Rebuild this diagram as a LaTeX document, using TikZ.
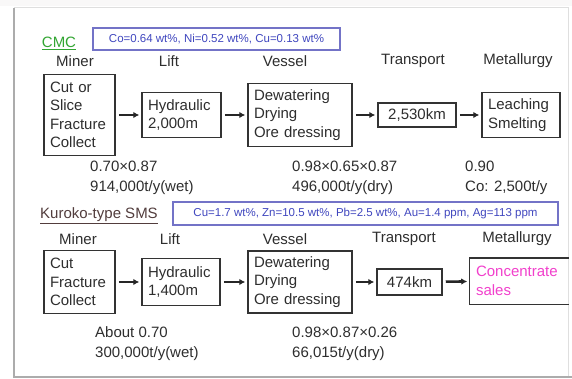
\documentclass[tikz,border=0pt]{standalone}
\usepackage{fontspec}
\setmainfont{Liberation Sans}
\usetikzlibrary{arrows.meta}
\definecolor{txt}{rgb}{0.18,0.18,0.18}
\definecolor{cmcgreen}{rgb}{0.20,0.65,0.20}
\definecolor{kurocol}{rgb}{0.32,0.24,0.24}
\definecolor{infoblue}{rgb}{0.25,0.28,0.75}
\definecolor{infoframe}{rgb}{0.45,0.45,0.78}
\definecolor{salescol}{rgb}{0.95,0.25,0.80}
\newcommand{\bodyf}{\fontsize{15}{18.4}\selectfont}
\newcommand{\smallf}{\fontsize{11.5}{13}\selectfont}
\begin{document}
\begin{tikzpicture}[x=1pt,y=-1pt,
  every node/.style={text=txt},
  box/.style={draw=black!80, line width=1.5pt, inner xsep=6pt, inner ysep=0pt,
    font=\bodyf, align=left},
  cbox/.style={draw=black!80, line width=1.5pt, inner xsep=0pt, inner ysep=0pt,
    font=\bodyf, align=center},
  hdr/.style={font=\bodyf, inner sep=0pt},
  num/.style={font=\fontsize{15}{20}\selectfont, align=left, inner sep=0pt, anchor=west},
  info/.style={draw=infoframe, line width=1.1pt, text=infoblue, font=\smallf,
    inner sep=0pt},
  arr/.style={line width=2.6pt, draw=black!85, -{Latex[length=6pt,width=6.5pt]},
    shorten <=3pt, shorten >=2pt}
]
\useasboundingbox (0,0) rectangle (572,379);
% slide frame
\fill[white] (0,0) rectangle (572,379);
\fill[yellow!4!gray!6] (0,0) rectangle (572,6);
\draw[gray!25, line width=1pt] (14,8) -- (568,8) -- (568,377);
\draw[gray!65, line width=2pt] (14,8) -- (14,377) -- (572,377);

% ---------- CMC ----------
\node[font=\fontsize{15}{18}\selectfont, text=cmcgreen, inner sep=0pt] (cmc) at (59,43) {\underline{CMC}};
\node[info, minimum width=247pt, minimum height=22pt] (info1) at (216.5,39) {Co=0.64 wt\%, Ni=0.52 wt\%, Cu=0.13 wt\%};

\node[hdr] (h1a) at (75,61) {Miner};
\node[hdr] (h1b) at (169,61) {Lift};
\node[hdr] (h1c) at (285,61) {Vessel};
\node[hdr] (h1d) at (413,61) {Transport};
\node[hdr] (h1e) at (518,61) {Metallurgy};

\node[box, text width=59pt, minimum height=81pt] (m1) at (79.5,115) {Cut or\\Slice\\Fracture\\Collect};
\node[box, text width=67pt, minimum height=45pt] (l1) at (181.5,115) {Hydraulic\\2,000m};
\node[box, text width=92pt, minimum height=63pt] (v1) at (300,115) {Dewatering\\Drying\\Ore dressing};
\node[cbox, text width=78pt, minimum height=24pt] (t1) at (417,115) {2,530km};
\node[box, text width=66pt, minimum height=45pt] (g1) at (521,115) {Leaching\\Smelting};

\draw[arr] (m1) -- (l1);
\draw[arr] (l1) -- (v1);
\draw[arr] (v1) -- (t1);
\draw[arr] (t1) -- (g1);

\node[num] (n1a) at (90,178) {0.70×0.87\\914,000t/y(wet)};
\node[num] (n1b) at (292,178) {0.98×0.65×0.87\\496,000t/y(dry)};
\node[num] (n1c) at (465,178) {0.90\\Co: 2,500t/y};

% ---------- Kuroko ----------
\node[font=\fontsize{15}{18}\selectfont, text=kurocol, inner sep=0pt] (kur) at (99,216) {\underline{Kuroko-type SMS}};
\node[info, minimum width=385pt, minimum height=23pt] (info2) at (365.5,213.5) {Cu=1.7 wt\%, Zn=10.5 wt\%, Pb=2.5 wt\%, Au=1.4 ppm, Ag=113 ppm};

\node[hdr] (h2a) at (78,239) {Miner};
\node[hdr] (h2b) at (170,239) {Lift};
\node[hdr] (h2c) at (285,239) {Vessel};
\node[hdr] (h2d) at (404,239) {Transport};
\node[hdr] (h2e) at (517,239) {Metallurgy};

\node[box, text width=59pt, minimum height=63pt] (m2) at (79.5,282) {Cut\\Fracture\\Collect};
\node[box, text width=66pt, minimum height=47pt] (l2) at (181,282) {Hydraulic\\1,400m};
\node[box, text width=92pt, minimum height=62pt] (v2) at (300,282) {Dewatering\\Drying\\Ore dressing};
\node[cbox, text width=65pt, minimum height=26pt] (t2) at (409.5,282) {474km};
\node[box, draw=none, text width=86pt, minimum height=45pt, text=salescol] (g2) at (519,281) {Concentrate\\sales};
\draw[black!80, line width=1.5pt] (g2.north east) -- (g2.north west) -- (g2.south west) -- (g2.south east);

\draw[arr] (m2) -- (l2);
\draw[arr] (l2) -- (v2);
\draw[arr] (v2) -- (t2);
\draw[arr] (t2) -- (g2);

\node[num] (n2a) at (95,344) {About 0.70\\300,000t/y(wet)};
\node[num] (n2b) at (292,344) {0.98×0.87×0.26\\66,015t/y(dry)};
\end{tikzpicture}
\end{document}
